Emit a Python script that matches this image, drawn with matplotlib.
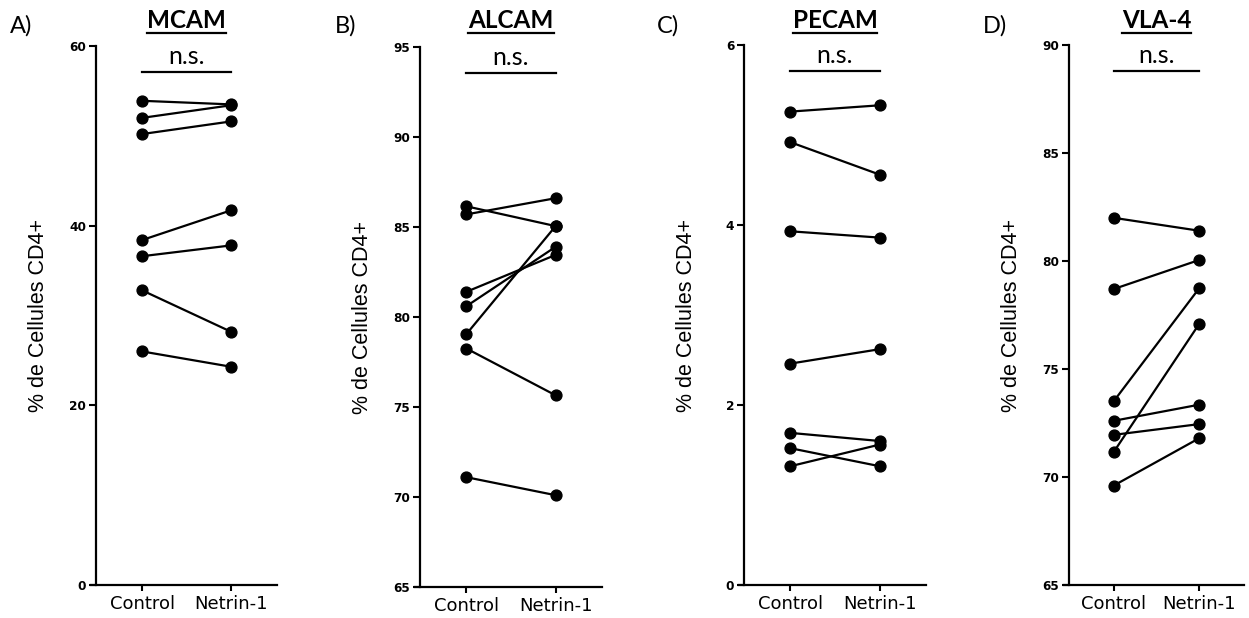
import matplotlib
matplotlib.use("Agg")
import matplotlib.pyplot as plt
import matplotlib.transforms as mtransforms
from matplotlib.lines import Line2D

W, H = 1249, 618

groups = ["Control", "Netrin-1"]
ylabel = "% de Cellules CD4+"

# paired values (control -> netrin-1)
mcam_control = [53.9, 52.0, 50.2, 38.4, 36.6, 32.8, 26.0]
mcam_netrin = [53.5, 53.4, 51.6, 41.7, 37.8, 28.2, 24.3]

alcam_control = [86.15, 85.7, 81.4, 80.6, 79.05, 78.25, 71.1]
alcam_netrin = [85.05, 86.6, 83.45, 83.9, 85.05, 75.65, 70.1]

pecam_control = [5.26, 4.92, 3.93, 2.46, 1.69, 1.52, 1.32]
pecam_netrin = [5.33, 4.56, 3.86, 2.62, 1.60, 1.32, 1.56]

vla4_control = [82.0, 78.7, 73.5, 72.6, 71.95, 71.15, 69.6]
vla4_netrin = [81.4, 80.05, 78.75, 73.35, 72.45, 77.1, 71.8]

panels = [
    ("A)", "MCAM", mcam_control, mcam_netrin, (0, 60), [0, 20, 40, 60]),
    ("B)", "ALCAM", alcam_control, alcam_netrin, (65, 95), [65, 70, 75, 80, 85, 90, 95]),
    ("C)", "PECAM", pecam_control, pecam_netrin, (0, 6), [0, 2, 4, 6]),
    ("D)", "VLA-4", vla4_control, vla4_netrin, (65, 90), [65, 70, 75, 80, 85, 90]),
]

# axes boxes in pixels: left, right, top, bottom
boxes = [(96, 277, 46, 585), (420, 602, 47, 587), (744, 926, 45, 585), (1069, 1244, 45, 585)]
letter_x = [10, 335, 657, 983]

fig = plt.figure(figsize=(W / 100, H / 100), dpi=100)

titles = []
for (letter, name, ctrl, net, ylim, yticks), (l, r, t, b), lx in zip(panels, boxes, letter_x):
    ax = fig.add_axes([l / W, 1 - b / H, (r - l) / W, (b - t) / H])

    for c, n in zip(ctrl, net):
        ax.plot([0, 1], [c, n], color="black", lw=1.6, marker="o", markersize=7.8,
                markerfacecolor="black", markeredgecolor="black")

    ax.set_xlim(-0.52, 1.52)
    ax.set_ylim(*ylim)
    ax.set_yticks(yticks)
    ax.set_xticks([0, 1])
    ax.set_xticklabels(groups, family="DejaVu Sans", fontsize=13)
    for lbl in ax.get_yticklabels():
        lbl.set_fontweight("bold")
        lbl.set_family("DejaVu Sans")
        lbl.set_fontsize(8.7)

    for side in ["top", "right"]:
        ax.spines[side].set_visible(False)
    for side in ["left", "bottom"]:
        ax.spines[side].set_linewidth(1.6)
    ax.spines["bottom"].set_bounds(-0.575, 1.52)
    ax.tick_params(axis="y", direction="out", length=5, width=1.5, pad=2)
    ax.tick_params(axis="x", direction="out", length=4.5, width=1.5, pad=3)

    ax.set_ylabel(ylabel, family="Liberation Sans", fontsize=15.5)
    ax.yaxis.set_label_coords(-47 / (r - l), 0.5)

    # n.s. bracket
    tr = ax.get_xaxis_transform()
    ax.plot([0, 1], [0.952, 0.952], transform=tr, color="black", lw=1.6, clip_on=False)
    ax.text(0.5, 0.966, "n.s.", transform=tr, ha="center", va="baseline",
            family="Lato", fontsize=18)

    # panel title, underlined below
    ttr = mtransforms.blended_transform_factory(ax.transData, fig.transFigure)
    tt = ax.text(0.5, 1 - 28.5 / H, name, transform=ttr, ha="center", va="baseline",
                 family="Lato", fontweight="bold", fontsize=17.5)
    titles.append(tt)

    fig.text(lx / W, 1 - 26 / H, letter, ha="left", va="center", family="Lato", fontsize=17)

fig.canvas.draw()
renderer = fig.canvas.get_renderer()
for tt in titles:
    bb = tt.get_window_extent(renderer)
    y = 1 - 33 / H
    fig.add_artist(Line2D([bb.x0 / W, bb.x1 / W], [y, y], transform=fig.transFigure,
                          color="black", lw=1.6))

fig.savefig("out.png", dpi=100)
